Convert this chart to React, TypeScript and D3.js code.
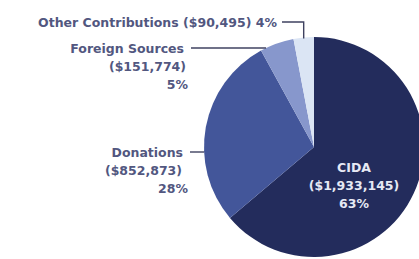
import { useEffect, useRef } from "react";
import * as d3 from "d3";

// Funding sources — values in dollars
const categories = ["CIDA", "Donations", "Foreign Sources", "Other Contributions"];
const amounts = [1933145, 852873, 151774, 90495];
const percents = ["63%", "28%", "5%", "4%"];
const amountLabels = ["($1,933,145)", "($852,873)", "($151,774)", "($90,495)"];

const COLORS = ["#232c5c", "#43569a", "#8797cc", "#dbe5f4"];
const TEXT = "#52577f";

function buildChart(svgEl: SVGSVGElement) {
  const width = 419;
  const height = 259;
  const cx = 314;
  const cy = 147;
  const r = 110;

  const svg = d3.select(svgEl).attr("width", width).attr("height", height);
  svg.selectAll("*").remove();

  const rows = categories.map((c, i) => ({ name: c, value: amounts[i], pct: percents[i], amt: amountLabels[i] }));

  const pie = d3.pie<any>().value(d => d.value).sort(null);
  const arcs = pie(rows);
  const arc = d3.arc<any>().innerRadius(0).outerRadius(r);

  const g = svg.append("g").attr("transform", `translate(${cx},${cy})`);
  g.selectAll("path")
    .data(arcs)
    .enter()
    .append("path")
    .attr("d", arc)
    .attr("fill", (_, i) => COLORS[i]);

  const font = "'DejaVu Sans', Verdana, sans-serif";
  const txt = (x: number, y: number, s: string, anchor: string, fill = TEXT) =>
    svg.append("text")
      .attr("x", x).attr("y", y)
      .attr("text-anchor", anchor)
      .attr("fill", fill)
      .style("font-family", font)
      .style("font-size", "12.5px")
      .style("font-weight", "bold")
      .text(s);

  const edgeX = (y: number) => cx - Math.sqrt(r * r - (y - cy) * (y - cy));
  const lineStyle = (sel: any) => sel.attr("stroke", "#3f4260").attr("stroke-width", 1.4).attr("fill", "none");
  const lh = 18;

  // CIDA — inside the slice
  const white = "#e6e9f4";
  txt(354, 171.5, rows[0].name, "middle", white);
  txt(354, 171.5 + lh, rows[0].amt, "middle", white);
  txt(354, 171.5 + 2 * lh, rows[0].pct, "middle", white);

  // Donations
  txt(183, 156.5, rows[1].name, "end");
  txt(182, 156.5 + lh, rows[1].amt, "end");
  txt(188, 156.5 + 2 * lh, rows[1].pct, "end");
  lineStyle(svg.append("line").attr("x1", 190).attr("x2", edgeX(152)).attr("y1", 152).attr("y2", 152));

  // Foreign Sources
  txt(184, 52.5, rows[2].name, "end");
  txt(186, 52.5 + lh, rows[2].amt, "end");
  txt(188, 52.5 + 2 * lh, rows[2].pct, "end");
  lineStyle(svg.append("line").attr("x1", 191).attr("x2", edgeX(48)).attr("y1", 48).attr("y2", 48));

  // Other Contributions — elbow leader down to the slice's mid angle
  const mid = (arcs[3].startAngle + arcs[3].endAngle) / 2;
  const lx = cx + Math.sin(mid) * r;
  txt(277, 26.5, `${rows[3].name} ${rows[3].amt} ${rows[3].pct}`, "end");
  lineStyle(svg.append("path").attr("d", `M282,22H${lx}V${cy - Math.cos(mid) * r + 1}`));
}

export default function App() {
  const svgRef = useRef<SVGSVGElement>(null);
  useEffect(() => {
    document.body.style.margin = "0";
    if (svgRef.current) buildChart(svgRef.current);
  }, []);
  return (
    <div style={{ width: 419, height: 259, background: "#fff" }}>
      <svg ref={svgRef} style={{ display: "block" }} />
    </div>
  );
}
